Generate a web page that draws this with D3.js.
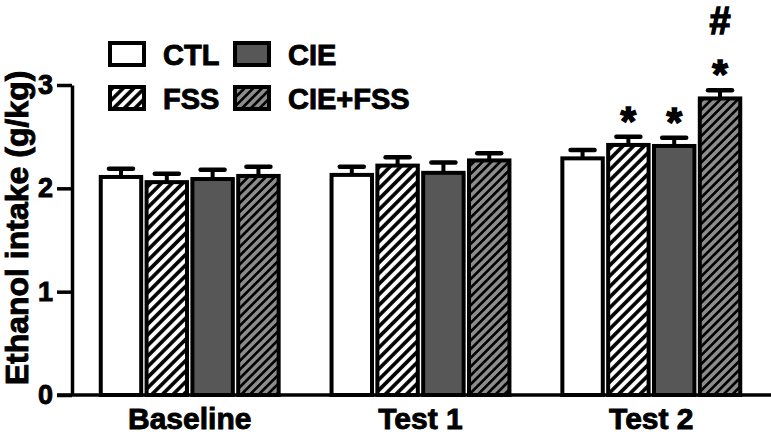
<!DOCTYPE html>
<html>
<head>
<meta charset="utf-8">
<script src="https://cdn.jsdelivr.net/npm/d3@7"></script>
<style>
  body { margin: 0; background: #fff; }
  svg { display: block; font-family: "Liberation Sans", Arial, sans-serif; font-weight: bold; }
  svg text { stroke: #000; stroke-width: 0.9px; }
</style>
</head>
<body>
<div id="chart"></div>
<script>
// data
const phases = ["Baseline", "Test 1", "Test 2"];
const groups = ["CTL", "FSS", "CIE", "CIE+FSS"];
const means = {
  "CTL":     [2.11, 2.13, 2.29],
  "FSS":     [2.06, 2.22, 2.42],
  "CIE":     [2.09, 2.15, 2.41],
  "CIE+FSS": [2.12, 2.27, 2.87]
};
const sems = {
  "CTL":     [0.08, 0.08, 0.08],
  "FSS":     [0.08, 0.08, 0.08],
  "CIE":     [0.09, 0.10, 0.08],
  "CIE+FSS": [0.09, 0.07, 0.08]
};
// significance markers: [phase, group, symbols from bottom to top]
const markers = [
  ["Test 2", "FSS", ["*"]],
  ["Test 2", "CIE", ["*"]],
  ["Test 2", "CIE+FSS", ["*", "#"]]
];
const yTicks = [0, 1, 2, 3];

let width = 771, height = 437;
let margin = {top: 85, bottom: 42, left: 72, right: 2};

let svg = d3.select("#chart")
  .append("svg")
  .attr("width", width)
  .attr("height", height);

// hatch patterns
const defs = svg.append("defs");
function hatch(id, bg, size, lw) {
  let p = defs.append("pattern")
    .attr("id", id)
    .attr("patternUnits", "userSpaceOnUse")
    .attr("width", size)
    .attr("height", size)
    .attr("patternTransform", "rotate(45)");
  p.append("rect").attr("width", size).attr("height", size).attr("fill", bg);
  p.append("line")
    .attr("x1", size / 2).attr("x2", size / 2)
    .attr("y1", 0).attr("y2", size)
    .attr("stroke", "#000")
    .attr("stroke-width", lw);
}
hatch("hatchWhite", "#fff", 7.5, 3.6);
hatch("hatchGray", "#8c8c8c", 6.2, 2.7);

const fills = {
  "CTL": "#fff",
  "FSS": "url(#hatchWhite)",
  "CIE": "#575757",
  "CIE+FSS": "url(#hatchGray)"
};

const x0 = d3.scaleBand()
  .domain(phases)
  .range([margin.left, width - margin.right])
  .paddingInner(0.2)
  .paddingOuter(0.11);

const x1 = d3.scaleBand()
  .domain(groups)
  .range([0, x0.bandwidth()])
  .padding(0.03);

const y = d3.scaleLinear()
  .domain([0, 3])
  .range([height - margin.bottom, margin.top]);

// bars
phases.forEach((ph, i) => {
  groups.forEach(g => {
    let bx = x0(ph) + x1(g);
    let bw = x1.bandwidth();
    let m = means[g][i], s = sems[g][i];
    let cx = bx + bw / 2;

    // error bar (upper only)
    svg.append("line")
      .attr("x1", cx).attr("x2", cx)
      .attr("y1", y(m)).attr("y2", y(m + s))
      .attr("stroke", "#000").attr("stroke-width", 4);
    svg.append("line")
      .attr("x1", cx - 12).attr("x2", cx + 12)
      .attr("y1", y(m + s)).attr("y2", y(m + s))
      .attr("stroke", "#000").attr("stroke-width", 4.5)
      .attr("stroke-linecap", "round");

    svg.append("rect")
      .attr("x", bx + 2)
      .attr("y", y(m))
      .attr("width", bw - 4)
      .attr("height", y(0) - y(m))
      .attr("fill", fills[g])
      .attr("stroke", "#000")
      .attr("stroke-width", 4);
  });
});

// significance markers
markers.forEach(([ph, g, syms]) => {
  let i = phases.indexOf(ph);
  let cx = x0(ph) + x1(g) + x1.bandwidth() / 2;
  let top = y(means[g][i] + sems[g][i]);
  syms.forEach((sym, k) => {
    svg.append("text")
      .attr("x", cx)
      .attr("y", sym === "*" ? top - 2 - k * 48 : top - 56)
      .attr("text-anchor", "middle")
      .style("font-size", sym === "*" ? "40px" : "38px")
      .style("stroke-width", sym === "*" ? "1.5px" : "1.4px")
      .text(sym);
  });
});

// y axis
let yAxis = svg.append("g")
  .attr("transform", `translate(${margin.left},0)`)
  .call(d3.axisLeft(y).tickValues(yTicks).tickFormat(d3.format("d"))
    .tickSize(15).tickSizeOuter(0).tickPadding(4));
yAxis.select(".domain").attr("stroke-width", 3.5);
yAxis.selectAll(".tick line").attr("stroke-width", 3.5);
yAxis.selectAll(".tick text")
  .style("font-size", "27px")
  .style("font-family", "'Liberation Sans', Arial, sans-serif")
  .style("font-weight", "bold")
  .attr("fill", "#000");

// x axis
let xAxis = svg.append("g")
  .attr("transform", `translate(0,${y(0)})`)
  .call(d3.axisBottom(x0).tickSize(0).tickPadding(13));
xAxis.select(".domain").remove();
xAxis.selectAll(".tick text")
  .style("font-size", "30px")
  .style("font-family", "'Liberation Sans', Arial, sans-serif")
  .style("font-weight", "bold")
  .attr("fill", "#000");
svg.append("line")
  .attr("x1", margin.left - 15)
  .attr("x2", width)
  .attr("y1", y(0)).attr("y2", y(0))
  .attr("stroke", "#000")
  .attr("stroke-width", 3.5);

// y-axis label
svg.append("text")
  .attr("transform", "rotate(-90)")
  .attr("x", -228)
  .attr("y", 28)
  .attr("text-anchor", "middle")
  .style("font-size", "32px")
  .text("Ethanol intake (g/kg)");

// legend
const legend = svg.append("g")
  .attr("transform", "translate(110, 43)");
groups.forEach((g, i) => {
  let col = i === 0 || i === 1 ? 0 : 1;
  let row = i === 0 || i === 2 ? 0 : 1;
  let lx = col * 125, ly = row * 44;
  legend.append("rect")
    .attr("x", lx).attr("y", ly)
    .attr("width", 34).attr("height", 22)
    .attr("fill", fills[g])
    .attr("stroke", "#000")
    .attr("stroke-width", 4);
  legend.append("text")
    .attr("x", lx + 53)
    .attr("y", ly + 22)
    .style("font-size", "29px")
    .text(g);
});
</script>
</body>
</html>
